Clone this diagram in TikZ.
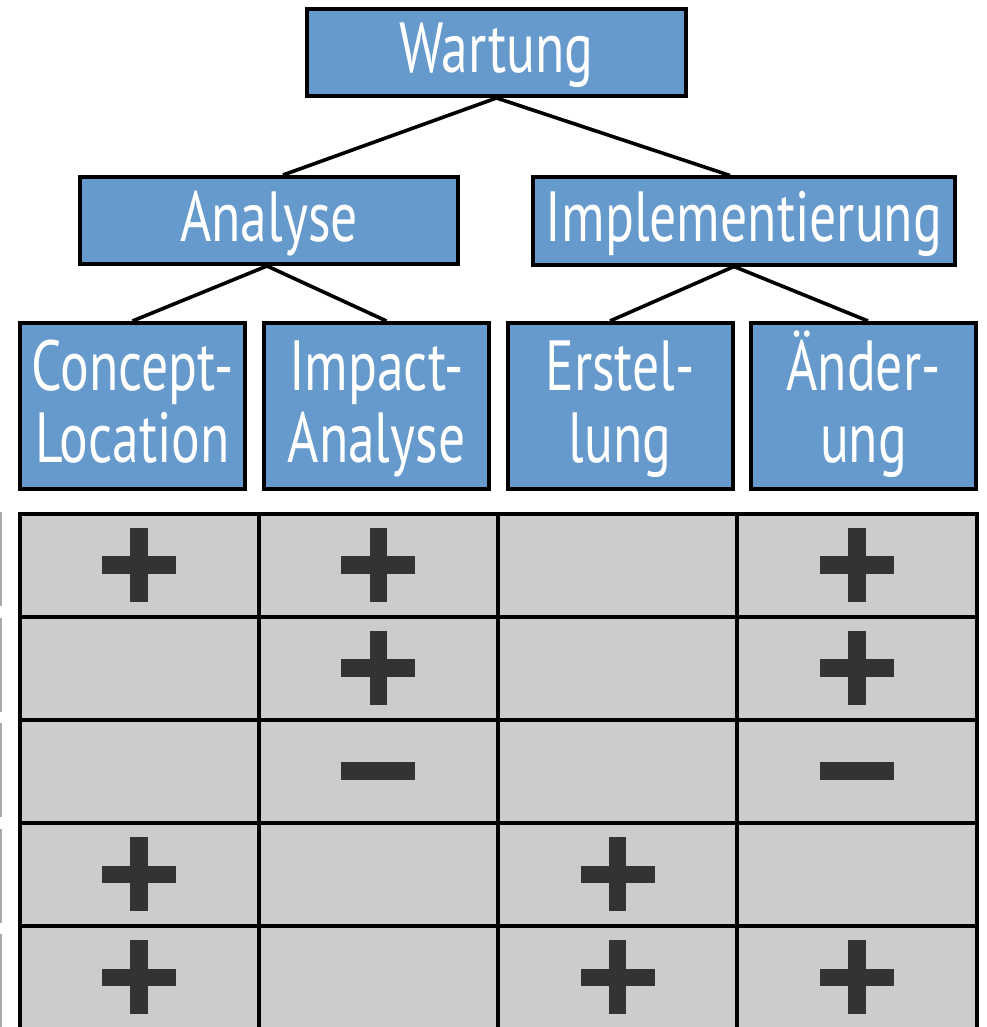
\documentclass[tikz,border=0pt]{standalone}
\usepackage{fontspec}
\setmainfont{PT Sans}[FakeStretch=0.755]

\begin{document}
\begin{tikzpicture}[%
        % one unit is one pixel of the reference, y grows downwards
        x=1pt,y=-1pt,
        % boxes of the tree
        box/.style={draw,line width=4pt,fill=boxcolor,text=white,inner sep=0pt,
            font=\fontsize{71}{72}\selectfont},
        topbox/.style={box,minimum height=87pt,text height=52pt,text depth=11pt},
        leaf/.style={box,minimum width=225pt,minimum height=166pt,align=center},
        link/.style={line width=3.6pt},
        % cells of the table
        cell/.style={draw,line width=4pt,fill=cellcolor,inner sep=0pt,
            minimum width=\Cw pt,minimum height=\Ch pt},
        ]

        \definecolor{boxcolor}{RGB}{102, 153, 204}
        \definecolor{cellcolor}{RGB}{204, 204, 204}
        \definecolor{signcolor}{RGB}{51, 51, 51}
        \definecolor{stripcolor}{RGB}{170, 170, 170}

        \def\Cw{239.25};  % cell width
        \def\Ch{103.1};  % cell height
        \def\Tx{19.5};  % table left edge
        \def\Ty{513.5};  % table top edge
        \def\tall{\rule{0pt}{62pt}}  % same first line for every leaf

        \useasboundingbox (0,0) rectangle (986,1027);

        % tree of boxes
        \node[topbox,minimum width=379pt] (wartung) at (496.5,52.5) {Wartung};
        \node[topbox,minimum width=378pt] (analyse) at (269,220.5) {Analyse};
        \node[topbox,minimum width=422pt] (implementierung) at (744,221) {Implementierung};

        \node[leaf] (concept) at (132.5,406) {\tall Concept-\\Location\strut};
        \node[leaf] (impact) at (376.5,406) {\tall Impact-\\Analyse\strut};
        \node[leaf] (erstellung) at (620,406) {\tall Erstel-\\lung\strut};
        \node[leaf] (aenderung) at (863.5,406) {\tall Änder-\\ung\strut};

        % connectors
        \draw[link] (wartung.south) -- ([xshift=14pt]analyse.north);
        \draw[link] (wartung.south) -- ([xshift=-14pt]implementierung.north);
        \draw[link] ([xshift=-2pt]analyse.south) -- (concept.north);
        \draw[link] ([xshift=-2pt]analyse.south) -- ([xshift=10pt]impact.north);
        \draw[link] ([xshift=-10pt]implementierung.south) -- ([xshift=-10pt]erstellung.north);
        \draw[link] ([xshift=-10pt]implementierung.south) -- ([xshift=4.5pt]aenderung.north);

        % table
        \foreach \r in {0,...,4}
            \foreach \c in {0,...,3}
                \node[cell] (c-\r-\c) at (\Tx+\Cw*\c+\Cw/2,\Ty+\Ch*\r+\Ch/2) {};

        % plus and minus signs
        \foreach \r/\c in {0/0,0/1,0/3,1/1,1/3,3/0,3/2,4/0,4/2,4/3}{
            \fill[signcolor] (c-\r-\c.center) ++(-37,-8.75) rectangle ++(74,17.5);
            \fill[signcolor] (c-\r-\c.center) ++(-8.75,-37) rectangle ++(17.5,74);
        }
        \foreach \r/\c in {2/1,2/3}
            \fill[signcolor] (c-\r-\c.center) ++(-37,-9) rectangle ++(74,18);

        % cut off strips at the left border
        \foreach \k in {0,...,4}
            \draw[stripcolor,line width=1.5pt] (0.75,512+105.5*\k) -- ++(0,94);

\end{tikzpicture}
\end{document}
